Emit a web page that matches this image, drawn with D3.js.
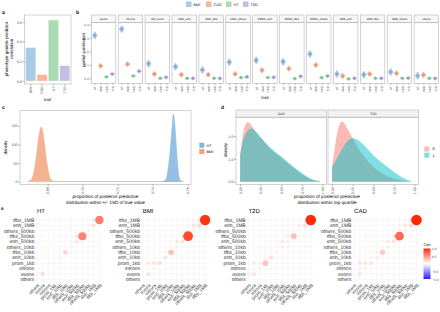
<!DOCTYPE html>
<html><head><meta charset="utf-8">
<script src="https://cdn.jsdelivr.net/npm/d3@7"></script>
<style>
body{margin:0;background:#fff}
svg{font-family:"Liberation Sans",Arial,sans-serif;-webkit-font-smoothing:antialiased;text-rendering:geometricPrecision}
</style></head><body><div id="fig"></div>
<script>
////
// DATA
////
// panel a
const traits = ["BMI", "CAD", "HT", "T2D"];
const traitColors = ["#a8c9e7", "#f6b698", "#a7dbb4", "#c6bde3"];
const traitDark = ["#6f9ccc", "#e08a67", "#6cbd85", "#998bc9"];
const predCorr = [0.34, 0.064, 0.62, 0.156];

// panel b
const annots = ["exons", "introns", "1kb_prom", "10kb_enh", "10kb_tfbs", "10kb_others", "500kb_enh",
    "500kb_tfbs", "500kb_others", "1MB_enh", "1MB_tfbs", "1MB_others", "others"];
const bLabels = ["HT", "BMI", "CAD", "T2D"];
const pcBMI = [0.32, 0.367, 0.109, 0.087, 0.062, 0.12, 0.134, 0.124, 0.181, 0.032, 0.027, 0.047, 0.019];
const pcCAD = [0.093, 0.105, 0.032, 0.027, 0.027, 0.032, 0.06, 0.072, 0.099, 0.017, 0.032, 0.037, 0.025];
const pcHT = [0.01, 0.018, 0.0, 0.0, 0.0, 0.005, 0.006, -0.002, 0.005, -0.004, 0.0, 0.0, 0.0];
const pcT2D = [0.032, 0.053, 0.007, 0.0, -0.001, 0.01, 0.007, 0.015, 0.017, 0.0, 0.0, 0.002, -0.001];
const pcErr = [0.026, 0.02, 0.012, 0.014];

// panel c: density curves [x, density]
const densHT = [[0.7455, 0], [0.7475, 5], [0.749, 40], [0.7503, 100], [0.7512, 150], [0.7518, 182],
    [0.7525, 162], [0.7533, 110], [0.7542, 50], [0.755, 15], [0.756, 2], [0.7575, 0]];
const densBMI = [[0.6686, 0], [0.6705, 4], [0.672, 22], [0.6735, 65], [0.6748, 115], [0.6757, 140],
    [0.6763, 147], [0.677, 140], [0.678, 108], [0.6793, 58], [0.6808, 18], [0.682, 4], [0.684, 0.5],
    [0.69, 0], [0.72, 0], [0.755, 0]];
const cTicks = [0.68, 0.70, 0.72, 0.74, 0.76];

// panel d: density curves [x, density]
const dFacets = ["CAD", "T2D"];
const dCAD0 = [[0, 1.15], [0.03, 2.0], [0.06, 2.45], [0.09, 2.6], [0.12, 2.55], [0.16, 2.35], [0.2, 2.1],
    [0.25, 1.92], [0.35, 1.5], [0.5, 1.05], [0.6, 0.75], [0.75, 0.33], [0.85, 0.12], [0.95, 0.02], [0.98, 0]];
const dCAD1 = [[0, 1.15], [0.03, 1.7], [0.07, 2.1], [0.11, 2.3], [0.14, 2.33], [0.18, 2.25], [0.25, 1.95],
    [0.35, 1.55], [0.5, 1.1], [0.6, 0.8], [0.75, 0.38], [0.85, 0.15], [0.95, 0.03], [1.0, 0]];
const dT2D0 = [[0, 0.65], [0.03, 1.4], [0.06, 2.1], [0.09, 2.5], [0.115, 2.64], [0.14, 2.6], [0.18, 2.35],
    [0.25, 1.9], [0.32, 1.45], [0.4, 1.05], [0.5, 0.65], [0.6, 0.38], [0.7, 0.2], [0.8, 0.08], [0.9, 0.02], [0.95, 0]];
const dT2D1 = [[0, 0.65], [0.05, 0.95], [0.1, 1.3], [0.15, 1.6], [0.2, 1.82], [0.245, 1.9], [0.3, 1.85],
    [0.4, 1.55], [0.5, 1.16], [0.6, 0.85], [0.7, 0.57], [0.75, 0.43], [0.85, 0.2], [0.93, 0.06], [0.98, 0]];

// panel e
const eTraits = ["HT", "BMI", "T2D", "CAD"];
const eRows = ["tfbs_1MB", "enh_1MB", "others_500kb", "tfbs_500kb", "enh_500kb", "others_10kb",
    "tfbs_10kb", "enh_10kb", "prom_1kb", "introns", "exons", "others"];
const eCols = eRows.slice().reverse();
const corrHT = [
    [0.03, 0.03, 0.02, 0.04, 0.03, 0.04, 0.05, 0.03, 0.05, 0.06, 0.12, 0.62],
    [0.02, 0.03, 0.03, 0.03, 0.04, 0.03, 0.05, 0.04, 0.06, 0.08, 0.15],
    [0.02, 0.03, 0.02, 0.03, 0.03, 0.04, 0.04, 0.05, 0.05, 0.08],
    [0.03, 0.02, 0.03, 0.04, 0.03, 0.05, 0.05, 0.12, 0.58],
    [0.02, 0.03, 0.03, 0.04, 0.04, 0.04, 0.08, 0.12],
    [0.02, 0.02, 0.03, 0.03, 0.04, 0.05, 0.07],
    [0.02, 0.03, 0.03, 0.04, 0.05, 0.2],
    [0.02, 0.03, 0.04, 0.05, 0.07],
    [0.02, 0.05, 0.07, 0.08],
    [0.03, 0.04, 0.06],
    [0.06, 0.16],
    [0.04]];
const corrBMI = [
    [0.03, 0.03, 0.03, 0.04, 0.04, 0.05, 0.05, 0.05, 0.06, 0.08, 0.15, 0.95],
    [0.02, 0.03, 0.03, 0.04, 0.04, 0.05, 0.05, 0.06, 0.08, 0.12, 0.18],
    [0.02, 0.03, 0.03, 0.03, 0.04, 0.05, 0.05, 0.06, 0.07, 0.08],
    [0.03, 0.03, 0.04, 0.04, 0.05, 0.05, 0.06, 0.1, 0.85],
    [0.02, 0.03, 0.03, 0.04, 0.05, 0.06, 0.12, 0.14],
    [0.02, 0.03, 0.03, 0.04, 0.05, 0.08, 0.08],
    [0.03, 0.03, 0.04, 0.05, 0.06, 0.28],
    [0.02, 0.03, 0.05, 0.06, 0.14],
    [0.03, 0.12, 0.14, 0.16],
    [0.03, 0.05, 0.08],
    [0.05, 0.14],
    [0.04]];
const corrT2D = [
    [0.03, 0.03, 0.03, 0.04, 0.04, 0.04, 0.05, 0.05, 0.05, 0.07, 0.12, 1.0],
    [0.02, 0.03, 0.03, 0.03, 0.04, 0.04, 0.05, 0.05, 0.06, 0.1, 0.16],
    [0.02, 0.02, 0.03, 0.03, 0.03, 0.04, 0.04, 0.05, 0.05, 0.06],
    [0.02, 0.03, 0.03, 0.04, 0.04, 0.05, 0.06, 0.1, 0.3],
    [0.02, 0.03, 0.03, 0.04, 0.05, 0.05, 0.12, 0.1],
    [0.02, 0.03, 0.03, 0.04, 0.05, 0.06, 0.1],
    [0.02, 0.03, 0.03, 0.05, 0.06, 0.08],
    [0.02, 0.03, 0.05, 0.08, 0.16],
    [0.03, 0.12, 0.08, 0.28],
    [0.03, 0.05, 0.08],
    [0.1, 0.14],
    [0.04]];
const corrCAD = [
    [0.03, 0.03, 0.03, 0.04, 0.04, 0.05, 0.05, 0.05, 0.06, 0.08, 0.15, 1.0],
    [0.02, 0.03, 0.03, 0.04, 0.04, 0.05, 0.05, 0.06, 0.08, 0.12, 0.18],
    [0.02, 0.03, 0.03, 0.03, 0.04, 0.04, 0.05, 0.05, 0.06, 0.08],
    [0.03, 0.03, 0.04, 0.04, 0.05, 0.05, 0.06, 0.12, 0.7],
    [0.02, 0.03, 0.03, 0.04, 0.05, 0.06, 0.12, 0.14],
    [0.02, 0.03, 0.03, 0.04, 0.06, 0.08, 0.1],
    [0.02, 0.03, 0.04, 0.06, 0.08, 0.26],
    [0.02, 0.04, 0.06, 0.08, 0.12],
    [0.04, 0.14, 0.12, 0.14],
    [0.04, 0.08, 0.1],
    [0.06, 0.14],
    [0.04]];
const corrTicks = [1.0, 0.5, -0.5, -1.0];

////
// CONTAINER
////
const svg = d3.select("#fig").append("svg").attr("width", 440).attr("height", 312);
const border = "#b5b5b5";

function styleAxis(g, size) {
    g.select(".domain").remove();
    g.selectAll("line").attr("stroke", "#333").attr("stroke-width", 0.4);
    g.selectAll("text").attr("fill", "#4d4d4d").attr("font-size", size || 3.6);
}
// rotate the x labels of an axisBottom by 90 degrees
function rotateX(g, size) {
    styleAxis(g, size);
    g.selectAll("text").attr("transform", "rotate(-90)").attr("text-anchor", "end")
        .attr("x", -2.5).attr("y", 0).attr("dy", "0.35em");
}
function panelLabel(x, y, t) {
    svg.append("text").attr("x", x).attr("y", y).attr("font-size", 5).attr("font-weight", "bold").text(t);
}
function box(x, y, w, h, fill) {
    svg.append("rect").attr("x", x).attr("y", y).attr("width", w).attr("height", h)
        .attr("fill", fill || "none").attr("stroke", border).attr("stroke-width", 0.6);
}

////
// PANEL A
////
panelLabel(2, 14, "a");
const yA = d3.scaleLinear().domain([0, 0.6]).range([81, 22]);
const xA = d3.scaleBand().domain(traits).range([24.5, 71]).paddingInner(0.1).paddingOuter(0.1);
svg.append("g").selectAll("rect").data(traits).enter().append("rect")
    .attr("x", d => xA(d)).attr("width", xA.bandwidth())
    .attr("y", (d, i) => yA(predCorr[i])).attr("height", (d, i) => yA(0) - yA(predCorr[i]))
    .attr("fill", (d, i) => traitColors[i]).attr("stroke", "#fff").attr("stroke-width", 0.3);
box(24.5, 15, 46.5, 69);
svg.append("g").attr("transform", "translate(24.5,0)")
    .call(d3.axisLeft(yA).tickValues([0, 0.2, 0.4, 0.6]).tickFormat(d3.format(".1f")).tickSize(1.5).tickPadding(1))
    .call(g => styleAxis(g));
svg.append("g").attr("transform", "translate(0,84)")
    .call(d3.axisBottom(xA).tickSize(1.5)).call(g => rotateX(g, 3.6));
svg.append("text").attr("transform", "translate(7.8,49) rotate(-90)").attr("text-anchor", "middle")
    .attr("font-size", 4.4).text("phenotype-genetic predictor");
svg.append("text").attr("transform", "translate(12.6,49) rotate(-90)").attr("text-anchor", "middle")
    .attr("font-size", 4.4).text("correlation");
svg.append("text").attr("x", 47.5).attr("y", 101).attr("text-anchor", "middle").attr("font-size", 4.4).text("trait");

////
// PANEL B
////
panelLabel(76, 14, "b");
const yB = d3.scaleLinear().domain([0, 0.4]).range([78.3, 24.7]);
const pcSeries = [pcBMI, pcCAD, pcHT, pcT2D];
annots.forEach((a, i) => {
    const x0 = 91.3 + i * 26.9, w = 24.5;
    box(x0, 15, w, 7.3, "#f7f7f7");
    svg.append("text").attr("x", x0 + w / 2).attr("y", 19.8).attr("text-anchor", "middle")
        .attr("font-size", 2.9).attr("fill", "#1a1a1a").text(a);
    box(x0, 22.3, w, 61.2);
    const xB = d3.scalePoint().domain(bLabels).range([x0, x0 + w]).padding(0.6);
    bLabels.forEach((lab, k) => {
        const v = pcSeries[k][i], e = pcErr[k];
        const cx = xB(lab);
        svg.append("path")
            .attr("d", `M${cx},${yB(v + e)}L${cx + 2.3},${yB(v)}L${cx},${yB(v - e)}L${cx - 2.3},${yB(v)}Z`)
            .attr("fill", traitColors[k]).attr("stroke", traitDark[k]).attr("stroke-width", 0.45);
        svg.append("circle").attr("cx", cx).attr("cy", yB(v)).attr("r", 1.1).attr("fill", traitDark[k]);
    });
    svg.append("g").attr("transform", "translate(0,83.5)")
        .call(d3.axisBottom(xB).tickSize(1.2)).call(g => rotateX(g, 3.1));
    if (i === 0) {
        svg.append("g").attr("transform", `translate(${x0},0)`)
            .call(d3.axisLeft(yB).tickValues([0, 0.1, 0.2, 0.3, 0.4]).tickFormat(d3.format(".1f")).tickSize(1.5).tickPadding(1))
            .call(g => styleAxis(g, 3.4));
    }
});
svg.append("text").attr("transform", "translate(84.5,50) rotate(-90)").attr("text-anchor", "middle")
    .attr("font-size", 4.4).text("partial correlation");
svg.append("text").attr("x", 265).attr("y", 98.5).attr("text-anchor", "middle").attr("font-size", 4.4).text("trait");
// legend
const legX = [186, 206, 226, 243];
traits.forEach((t, i) => {
    svg.append("rect").attr("x", legX[i]).attr("y", 1.5).attr("width", 5.5).attr("height", 5.5)
        .attr("fill", traitColors[i]);
    svg.append("text").attr("x", legX[i] + 7.5).attr("y", 5.7).attr("font-size", 3.8).attr("fill", "#1a1a1a").text(t);
});

////
// PANEL C
////
panelLabel(2, 109, "c");
const xC = d3.scaleLinear().domain([0.6642, 0.7619]).range([20, 191]);
const yC = d3.scaleLinear().domain([0, 150]).range([181.5, 125.8]);
const areaC = d3.area().x(d => xC(d[0])).y0(yC(0)).y1(d => yC(d[1])).curve(d3.curveMonotoneX);
svg.append("path").datum(densBMI).attr("d", areaC).attr("fill", "#f2a47f").attr("fill-opacity", 0.85)
    .attr("stroke", "#f2a47f").attr("stroke-width", 0.5);
svg.append("path").datum(densHT).attr("d", areaC).attr("fill", "#82b5df").attr("fill-opacity", 0.85)
    .attr("stroke", "#82b5df").attr("stroke-width", 0.5);
box(20, 110.5, 171, 74.2);
svg.append("g").attr("transform", "translate(20,0)")
    .call(d3.axisLeft(yC).tickValues([0, 50, 100, 150]).tickSize(1.5).tickPadding(1)).call(g => styleAxis(g));
svg.append("g").attr("transform", "translate(0,184.7)")
    .call(d3.axisBottom(xC).tickValues(cTicks).tickFormat(d3.format(".2f")).tickSize(1.5)).call(g => rotateX(g, 3.6));
svg.append("text").attr("transform", "translate(6.5,147.6) rotate(-90)").attr("text-anchor", "middle")
    .attr("font-size", 4.4).text("density");
svg.append("text").attr("x", 105.5).attr("y", 197.5).attr("text-anchor", "middle").attr("font-size", 4.6)
    .text("proportion of posterior predictive");
svg.append("text").attr("x", 105.5).attr("y", 203.5).attr("text-anchor", "middle").attr("font-size", 4.6)
    .text("distribution within +/- 1SD of true value");
[["HT", "#82b5df"], ["BMI", "#f2a47f"]].forEach((k, i) => {
    svg.append("rect").attr("x", 199.3).attr("y", 142.7 + i * 6.4).attr("width", 5).attr("height", 5)
        .attr("fill", k[1]);
    svg.append("text").attr("x", 206.5).attr("y", 146.6 + i * 6.4).attr("font-size", 3.8).text(k[0]);
});

////
// PANEL D
////
panelLabel(221, 109, "d");
const yD = d3.scaleLinear().domain([0, 2]).range([181.7, 136]);
const dData = [[dCAD0, dCAD1], [dT2D0, dT2D1]];
const dX0 = [236, 328];
dFacets.forEach((f, i) => {
    const x0 = dX0[i], w = 90.5;
    const xD = d3.scaleLinear().domain([-0.05, 1.05]).range([x0, x0 + w]);
    const areaD = d3.area().x(d => xD(d[0])).y0(yD(0)).y1(d => yD(d[1])).curve(d3.curveMonotoneX);
    svg.append("path").datum(dData[i][0]).attr("d", areaD).attr("fill", "#F8766D").attr("fill-opacity", 0.5);
    svg.append("path").datum(dData[i][1]).attr("d", areaD).attr("fill", "#00BFC4").attr("fill-opacity", 0.5);
    box(x0, 110, w, 7.2, "#f2f2f2");
    svg.append("text").attr("x", x0 + w / 2).attr("y", 114.9).attr("text-anchor", "middle")
        .attr("font-size", 3.4).attr("fill", "#1a1a1a").text(f);
    box(x0, 117.2, w, 67.5);
    svg.append("g").attr("transform", "translate(0,184.7)")
        .call(d3.axisBottom(xD).tickValues([0, 0.25, 0.5, 0.75, 1]).tickFormat(d3.format(".2f")).tickSize(1.5))
        .call(g => rotateX(g, 3.6));
});
svg.append("g").attr("transform", "translate(236,0)")
    .call(d3.axisLeft(yD).tickValues([0, 1, 2]).tickSize(1.5).tickPadding(1)).call(g => styleAxis(g));
svg.append("text").attr("transform", "translate(227,150) rotate(-90)").attr("text-anchor", "middle")
    .attr("font-size", 4.4).text("density");
svg.append("text").attr("x", 327).attr("y", 197.5).attr("text-anchor", "middle").attr("font-size", 4.6)
    .text("proportion of posterior predictive");
svg.append("text").attr("x", 327).attr("y", 203.5).attr("text-anchor", "middle").attr("font-size", 4.6)
    .text("distribution within top quartile");
[["0", "#F8766D"], ["1", "#00BFC4"]].forEach((k, i) => {
    svg.append("rect").attr("x", 424.3).attr("y", 146.5 + i * 6.2).attr("width", 5).attr("height", 5)
        .attr("fill", k[1]).attr("fill-opacity", 0.5);
    svg.append("text").attr("x", 432.5).attr("y", 150.3 + i * 6.2).attr("font-size", 3.8).text(k[0]);
});

////
// PANEL E
////
panelLabel(1, 210, "e");
const corrColor = d3.scaleLinear().domain([-1, 0, 1]).range(["#2a1aff", "#ffffff", "#ff2a0a"]);
const corrRad = d3.scaleSqrt().domain([0, 1]).range([0, 5.3]);
const corrs = [corrHT, corrBMI, corrT2D, corrCAD];
const yE = d3.scalePoint().domain(eRows).range([220, 279.3]);
eTraits.forEach((t, i) => {
    const ox = i * 105.7;
    const xE = d3.scalePoint().domain(eCols).range([37 + ox, 99.4 + ox]);
    const g = svg.append("g");
    // grid
    eCols.forEach(c => g.append("line").attr("x1", xE(c)).attr("x2", xE(c)).attr("y1", 217).attr("y2", 282.3)
        .attr("stroke", "#ebebeb").attr("stroke-width", 0.4));
    eRows.forEach(r => g.append("line").attr("x1", 34.5 + ox).attr("x2", 102 + ox).attr("y1", yE(r)).attr("y2", yE(r))
        .attr("stroke", "#ebebeb").attr("stroke-width", 0.4));
    // dots
    corrs[i].forEach((row, r) => row.forEach((v, c) => {
        g.append("circle").attr("cx", xE(eCols[c])).attr("cy", yE(eRows[r]))
            .attr("r", corrRad(Math.abs(v))).attr("fill", corrColor(v));
    }));
    // labels
    eRows.forEach(r => g.append("text").attr("x", 34.3 + ox).attr("y", yE(r)).attr("dy", "0.35em")
        .attr("text-anchor", "end").attr("font-size", 5).attr("fill", "#333").text(r));
    eCols.forEach(c => g.append("text")
        .attr("transform", `translate(${xE(c) + 1.5},${284.5}) rotate(-45)`).attr("text-anchor", "end")
        .attr("dy", "0.35em").attr("font-size", 4.6).attr("fill", "#333").text(c));
    g.append("text").attr("x", 37 + ox).attr("y", 213).attr("font-size", 6).text(t);
});
// colourbar
const defs = svg.append("defs");
const grad = defs.append("linearGradient").attr("id", "corrGrad").attr("x1", 0).attr("x2", 0).attr("y1", 1).attr("y2", 0);
[-1, -0.5, 0, 0.5, 1].forEach(v => grad.append("stop").attr("offset", (v + 1) / 2).attr("stop-color", corrColor(v)));
const yBar = d3.scaleLinear().domain([-1, 1]).range([279, 248.5]);
svg.append("rect").attr("x", 423.5).attr("y", 248.5).attr("width", 7).attr("height", 30.5).attr("fill", "url(#corrGrad)");
svg.append("text").attr("x", 423.5).attr("y", 246).attr("font-size", 3.8).text("Corr");
svg.append("g").attr("transform", "translate(430.5,0)")
    .call(d3.axisRight(yBar).tickValues(corrTicks).tickFormat(d3.format(".1f")).tickSize(0).tickPadding(1.5))
    .call(g => styleAxis(g, 3.3));
</script></body></html>
